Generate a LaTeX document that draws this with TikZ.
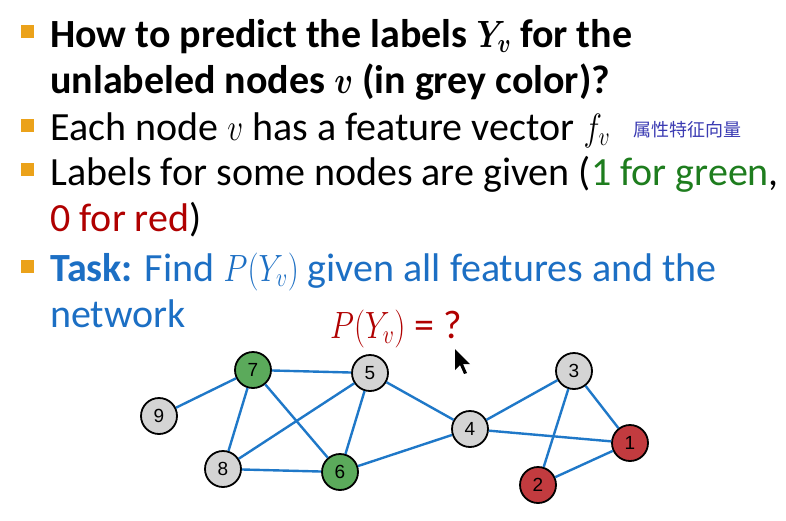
\documentclass[tikz,border=0pt]{standalone}
\usepackage{fix-cm}
\usepackage{graphicx}
\usepackage{fontspec}
\usepackage{bm}
\setmainfont{Carlito}
\newfontfamily\cjk{Noto Sans CJK SC}
\newfontfamily\numfont{Liberation Sans}
\newcommand{\mth}[1]{\scalebox{0.82}[1]{\fontsize{38}{40}\selectfont$#1$}}
\definecolor{bulletor}{HTML}{EBA21A}
\definecolor{txtgreen}{HTML}{1E7D1E}
\definecolor{txtred}{HTML}{B00000}
\definecolor{txtblue}{HTML}{1C6FC4}
\definecolor{cjkblue}{HTML}{3B3BB3}
\definecolor{edgeblue}{HTML}{1F78C8}
\definecolor{ngrey}{HTML}{D4D4D4}
\definecolor{ngreen}{HTML}{5BAA5B}
\definecolor{nred}{HTML}{C23B3F}
\tikzset{
  line/.style={anchor=base west, inner sep=0pt, font=\fontsize{40}{47}\selectfont},
  bul/.style={fill=bulletor, draw=none},
  gnode/.style={circle, draw=black, line width=1.8pt, minimum size=36pt, inner sep=0pt, font=\numfont\fontsize{19}{19}\selectfont},
  greynode/.style={gnode, fill=ngrey},
  greennode/.style={gnode, fill=ngreen},
  rednode/.style={gnode, fill=nred},
  edge/.style={draw=edgeblue, line width=2.4pt}
}
\begin{document}
\begin{tikzpicture}[x=1pt,y=-1pt]
\useasboundingbox[fill=white] (0,0) rectangle (786,520);
% bullets
\fill[bul] (21,25) rectangle (34,38);
\fill[bul] (21,119) rectangle (34,132);
\fill[bul] (21,163) rectangle (34,176);
\fill[bul] (21,260) rectangle (34,273);
% text lines
\node[line] (l1) at (50,47) {\bfseries How to predict the labels \mth{\bm{Y_v}} for the};
\node[line] (l2) at (50,93) {\bfseries unlabeled nodes \mth{\bm{v}} (in grey color)?};
\node[line] (l3) at (50,140) {Each node \mth{v} has a feature vector \mth{f_v}};
\node[anchor=base west, inner sep=0pt, text=cjkblue, font=\cjk\fontsize{18}{18}\selectfont] (cj) at (633,136) {属性特征向量};
\node[line] (l4) at (50,185) {Labels for some nodes are given (\textcolor{txtgreen}{1 for green},};
\node[line] (l5) at (50,231) {\textcolor{txtred}{0 for red})};
\node[line, text=txtblue] (l6) at (50,281) {\textbf{Task:} Find \mth{P(Y_v)} given all features and the};
\node[line, text=txtblue] (l7) at (50,327) {network};
\node[line, text=txtred] (pq) at (330,338) {\mth{P(Y_v)} = ?};
% cursor
\fill[black] (455,349) -- (455,370) -- (460,365) -- (464,374) -- (467,373) -- (463,364) -- (470,364) -- cycle;
% graph
\node[greennode] (n7) at (253,370) {7};
\node[greynode] (n5) at (370,373) {5};
\node[greynode] (n9) at (159,416) {9};
\node[greynode] (n8) at (223,469) {8};
\node[greennode] (n6) at (340,472) {6};
\node[greynode] (n4) at (470,429) {4};
\node[greynode] (n3) at (574,371) {3};
\node[rednode] (n1) at (630,443) {1};
\node[rednode] (n2) at (538,485) {2};
\path[edge] (n9) -- (n7);
\path[edge] (n7) -- (n5);
\path[edge] (n7) -- (n8);
\path[edge] (n7) -- (n6);
\path[edge] (n5) -- (n8);
\path[edge] (n5) -- (n6);
\path[edge] (n5) -- (n4);
\path[edge] (n8) -- (n6);
\path[edge] (n6) -- (n4);
\path[edge] (n4) -- (n3);
\path[edge] (n4) -- (n1);
\path[edge] (n3) -- (n2);
\path[edge] (n3) -- (n1);
\path[edge] (n2) -- (n1);
\end{tikzpicture}
\end{document}
